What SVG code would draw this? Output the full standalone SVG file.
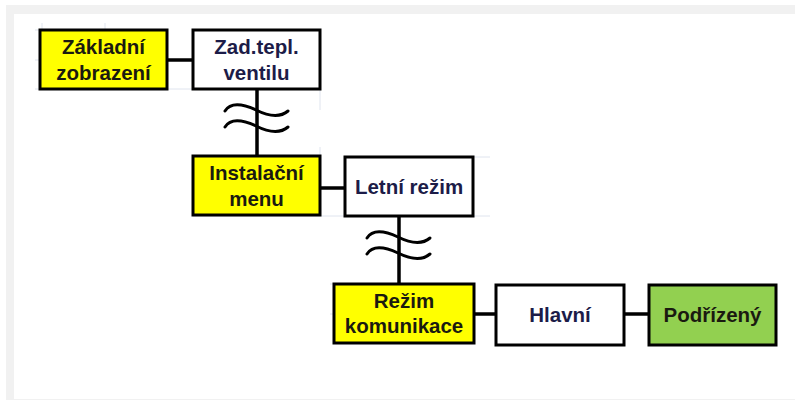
<svg xmlns="http://www.w3.org/2000/svg" width="795" height="401" viewBox="0 0 795 401">
<style>
.box{stroke:#000;stroke-width:3}
.y{fill:#ffff00}
.w{fill:#ffffff}
.g{fill:#92d050}
.t{font-family:"Liberation Sans",Arial,sans-serif;font-weight:bold;font-size:20.5px;text-anchor:middle}
.ty{fill:#1a1a10}
.tw{fill:#1c1c48}
.c{stroke:#000;stroke-width:3.5;fill:none}
.wave{stroke:#000;stroke-width:3;fill:none;stroke-linecap:round}
.grid{stroke:#dfe4ee;stroke-width:1}
</style>
<rect x="6" y="5" width="789" height="395" fill="#f1f1f1"/>
<rect x="14" y="14" width="781" height="385" fill="#ffffff"/>
<g id="gridlines">
<line class="grid" x1="42" y1="23" x2="42" y2="30"/>
<line class="grid" x1="105" y1="23" x2="105" y2="30"/>
<line class="grid" x1="35" y1="30" x2="40" y2="30"/>
<line class="grid" x1="35" y1="60" x2="40" y2="60"/>
<line class="grid" x1="35" y1="89" x2="193" y2="89"/>
<line class="grid" x1="320" y1="89" x2="320" y2="110"/>
<line class="grid" x1="320" y1="147" x2="320" y2="156"/>
<line class="grid" x1="193" y1="216" x2="345" y2="216"/>
<line class="grid" x1="473" y1="216" x2="490" y2="216"/>
<line class="grid" x1="473" y1="157" x2="490" y2="157"/>
<line class="grid" x1="334" y1="284" x2="330" y2="284"/>
<line class="grid" x1="330" y1="314" x2="334" y2="314"/>
</g>
<g id="connectors">
<line class="c" x1="167" y1="60" x2="193" y2="60"/>
<line class="c" x1="257" y1="89" x2="257" y2="156"/>
<path class="wave" d="M225,111 C230,103 241,103 256,110 C270,117 281,117 288,111"/>
<path class="wave" d="M225,127 C230,119 241,119 256,126 C270,133 281,133 288,127"/>
<line class="c" x1="320" y1="188" x2="345" y2="188"/>
<line class="c" x1="399" y1="216" x2="399" y2="284"/>
<path class="wave" d="M367,238 C372,230 383,230 398,237 C412,244 423,244 430,238"/>
<path class="wave" d="M367,254 C372,246 383,246 398,253 C412,260 423,260 430,254"/>
<line class="c" x1="474" y1="314" x2="496" y2="314"/>
<line class="c" x1="624" y1="314" x2="649" y2="314"/>
</g>
<g id="zakladni">
<rect class="box y" x="40" y="30" width="127" height="59"/>
<text class="t ty" x="103.5" y="54">Základní</text>
<text class="t ty" x="103.5" y="80">zobrazení</text>
</g>
<g id="zadtepl">
<rect class="box w" x="193" y="30" width="127" height="59"/>
<text class="t tw" x="256.5" y="54">Zad.tepl.</text>
<text class="t tw" x="256.5" y="80">ventilu</text>
</g>
<g id="instalacni">
<rect class="box y" x="193" y="156" width="127" height="59"/>
<text class="t ty" x="256.5" y="180">Instalační</text>
<text class="t ty" x="256.5" y="206">menu</text>
</g>
<g id="letni">
<rect class="box w" x="345" y="157" width="128" height="59"/>
<text class="t tw" x="409" y="194">Letní režim</text>
</g>
<g id="rezim">
<rect class="box y" x="334" y="284" width="140" height="59"/>
<text class="t ty" x="404" y="308">Režim</text>
<text class="t ty" x="404" y="333">komunikace</text>
</g>
<g id="hlavni">
<rect class="box w" x="496" y="285" width="128" height="60"/>
<text class="t tw" x="560" y="322">Hlavní</text>
</g>
<g id="podrizeny">
<rect class="box g" x="649" y="285" width="127" height="60"/>
<text class="t ty" x="712.5" y="322">Podřízený</text>
</g>
</svg>
